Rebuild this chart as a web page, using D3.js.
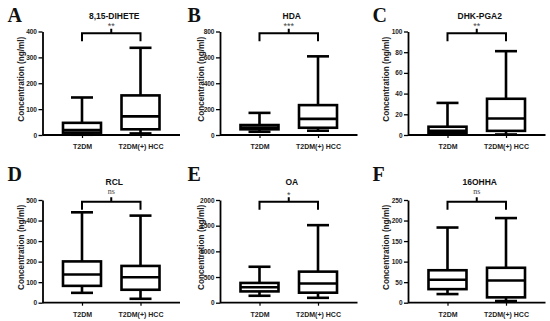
<!DOCTYPE html>
<html><head><meta charset="utf-8">
<script src="https://cdn.jsdelivr.net/npm/d3@7"></script>
<style>body{margin:0;background:#fff}svg{display:block}</style>
</head><body>
<script>
const categories = ["T2DM", "T2DM(+) HCC"];
const panelLetters = ["A", "B", "C", "D", "E", "F"];
const panelTitles = ["8,15-DIHETE", "HDA", "DHK-PGA2", "RCL", "OA", "16OHHA"];
const significance = ["**", "***", "**", "ns", "*", "ns"];
const yMax = [400, 800, 100, 500, 2000, 250];
const yStep = [100, 200, 20, 100, 500, 50];
// [min, q1, median, q3, max] per category
const statsT2DM = [
  [1, 9, 19, 47, 145],
  [25, 44, 58, 77, 171],
  [0.5, 2, 4, 8, 31],
  [48, 82, 137, 201, 440],
  [135, 220, 300, 385, 700],
  [21, 33, 56, 79, 183]
];
const statsHCC = [
  [6, 22, 72, 153, 337],
  [33, 56, 125, 231, 608],
  [0.5, 4, 16, 35, 81],
  [19, 63, 124, 179, 424],
  [95, 195, 375, 605, 1510],
  [4, 13, 54, 85, 206]
];

const W = 550, H = 321;
const svg = d3.select("body").append("svg").attr("width", W).attr("height", H);
const colX = [0, 180, 365];
const axisX = [42.5, 220, 408];
const rowY = [{top: 31.5, bottom: 135, letter: 22, title: 18.5, label: 147.5},
              {top: 200, bottom: 302.7, letter: 181, title: 184.5, label: 315.5}];

for (let i = 0; i < 6; i++) {
  const c = i % 3, r = Math.floor(i / 3);
  const R = rowY[r];
  const g = svg.append("g");
  const y = d3.scaleLinear().domain([0, yMax[i]]).range([R.bottom, R.top]);
  const x = d3.scalePoint().domain(categories).range([axisX[c], axisX[c] + 137.5]).padding(0.675);

  // letter
  g.append("text").attr("x", colX[c] + 7.5).attr("y", R.letter)
    .attr("font-family", "Liberation Serif, Times New Roman, serif").attr("font-weight", "bold")
    .attr("font-size", 20).attr("fill", "#111").text(panelLetters[i]);

  // y axis
  const ya = d3.axisLeft(y).tickValues(d3.range(0, yMax[i] + 1e-9, yStep[i]))
    .tickFormat(d3.format("d")).tickSize(4).tickPadding(1.5).tickSizeOuter(0);
  const yg = g.append("g").attr("transform", `translate(${axisX[c]},0)`).call(ya);
  yg.select(".domain").attr("stroke", "#000").attr("stroke-width", 1.8);
  yg.selectAll(".tick line").attr("stroke", "#000").attr("stroke-width", 1.3);
  yg.selectAll(".tick text").attr("font-family", "Liberation Sans, Arial, sans-serif")
    .attr("font-weight", "bold").attr("font-size", 6.5).attr("fill", "#222");

  // x axis
  const xa = d3.axisBottom(x).tickSize(3).tickPadding(6).tickSizeOuter(0);
  const xg = g.append("g").attr("transform", `translate(0,${R.bottom})`).call(xa);
  xg.select(".domain").attr("stroke", "#000").attr("stroke-width", 1.8)
    .attr("d", `M${axisX[c]},0H${axisX[c] + 137.5}`);
  xg.selectAll(".tick line").attr("stroke", "#000").attr("stroke-width", 1.2);
  xg.selectAll(".tick text").attr("font-family", "Liberation Sans, Arial, sans-serif")
    .attr("font-weight", "bold").attr("font-size", 7).attr("fill", "#222");

  // y title
  g.append("text")
    .attr("transform", `translate(${colX[c] + 23.5},${(R.top + R.bottom) / 2 - 4}) rotate(-90)`)
    .attr("text-anchor", "middle").attr("font-family", "Liberation Sans, Arial, sans-serif")
    .attr("font-weight", "bold").attr("font-size", 8.2).attr("fill", "#222")
    .text("Concentration (ng/ml)");

  // boxes
  const bw = 38, cw = 22;
  [statsT2DM[i], statsHCC[i]].forEach((s, k) => {
    const cx = x(categories[k]);
    const bg = g.append("g").attr("stroke", "#000").attr("stroke-width", 2.6).attr("fill", "none");
    bg.append("line").attr("x1", cx).attr("x2", cx).attr("y1", y(s[3])).attr("y2", y(s[4]));
    bg.append("line").attr("x1", cx).attr("x2", cx).attr("y1", y(s[1])).attr("y2", y(s[0]));
    bg.append("line").attr("x1", cx - cw / 2).attr("x2", cx + cw / 2).attr("y1", y(s[4])).attr("y2", y(s[4]));
    bg.append("line").attr("x1", cx - cw / 2).attr("x2", cx + cw / 2).attr("y1", y(s[0])).attr("y2", y(s[0]));
    bg.append("rect").attr("x", cx - bw / 2).attr("width", bw)
      .attr("y", y(s[3])).attr("height", y(s[1]) - y(s[3])).attr("fill", "#fff");
    bg.append("line").attr("x1", cx - bw / 2).attr("x2", cx + bw / 2).attr("y1", y(s[2])).attr("y2", y(s[2]));
  });

  // bracket
  const x1 = x(categories[0]), x2 = x(categories[1]), xm = (x1 + x2) / 2;
  const bt = r === 0 ? 33.3 : 201.7;
  g.append("path").attr("fill", "none").attr("stroke", "#000").attr("stroke-width", 2)
    .attr("d", `M${x1},${bt + 8}V${bt}H${x2}V${bt + 8}M${xm},${bt}V${bt - 4.5}`);
  const ns = significance[i] === "ns";
  g.append("text").attr("x", xm).attr("y", ns ? bt - 8 : bt - 4.2)
    .attr("text-anchor", "middle")
    .attr("font-family", ns ? "Liberation Serif, Times New Roman, serif" : "Liberation Sans, Arial, sans-serif")
    .attr("font-size", ns ? 8 : 9).attr("fill", "#444").text(significance[i]);

  // title
  g.append("text").attr("x", xm + 3).attr("y", R.title).attr("text-anchor", "middle")
    .attr("font-family", "Liberation Sans, Arial, sans-serif").attr("font-weight", "bold")
    .attr("font-size", 8.5).attr("fill", "#111").text(panelTitles[i]);
}
</script>
</body></html>
